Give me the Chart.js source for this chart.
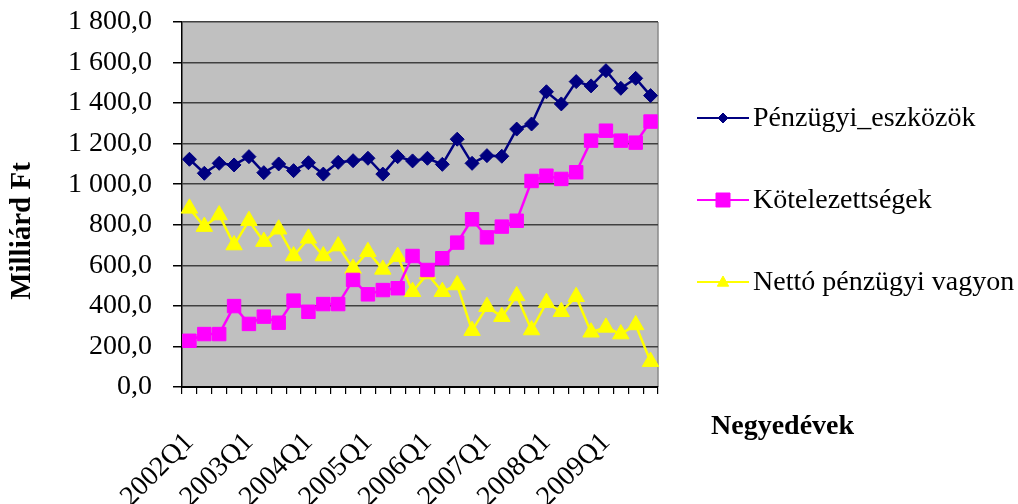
<!DOCTYPE html>
<html><head><meta charset="utf-8">
<script src="https://cdn.jsdelivr.net/npm/chart.js@4"></script>
<style>html,body{margin:0;padding:0;background:#fff;overflow:hidden}</style>
</head><body>
<canvas id="c" width="1018" height="504" style="display:block;width:1018px;height:504px"></canvas>
<script>
const categories = [
 '2002Q1','2002Q2','2002Q3','2002Q4','2003Q1','2003Q2','2003Q3','2003Q4',
 '2004Q1','2004Q2','2004Q3','2004Q4','2005Q1','2005Q2','2005Q3','2005Q4',
 '2006Q1','2006Q2','2006Q3','2006Q4','2007Q1','2007Q2','2007Q3','2007Q4',
 '2008Q1','2008Q2','2008Q3','2008Q4','2009Q1','2009Q2','2009Q3','2009Q4'];
const shownTickLabels = ['2002Q1','2003Q1','2004Q1','2005Q1','2006Q1','2007Q1','2008Q1','2009Q1'];
const penzugyiEszkozok = [1123,1054,1103,1095,1136,1057,1100,1067,1106,1050,1108,1116,1128,1050,1136,1115,
 1128,1098,1222,1103,1141,1138,1272,1297,1456,1396,1506,1485,1560,1473,1522,1437];
const kotelezettsegek = [228,261,261,399,311,347,317,426,371,409,409,528,457,478,487,646,
 577,635,712,827,738,791,820,1016,1042,1026,1059,1215,1264,1215,1205,1309];
const nettoVagyon = [881,791,848,700,820,717,778,646,733,646,695,585,667,580,643,470,
 557,470,503,278,396,347,449,281,416,371,445,270,294,261,306,125];
const seriesNames = ['Pénzügyi_eszközök','Kötelezettségek','Nettó pénzügyi vagyon'];
const seriesColors = ['#000080','#FF00FF','#FFFF00'];
const seriesMarkers = ['rectRot','rect','triangle'];
const yMin = 0, yMax = 1800, yStep = 200;
const yTitle = 'Milliárd Ft';
const xTitle = 'Negyedévek';

const SERIF = '"Liberation Serif", "Times New Roman", serif';

function fmt(v){
  const s = v >= 1000 ? Math.floor(v/1000) + ' ' + String(v % 1000).padStart(3,'0') : String(v);
  return s + ',0';
}

function marker(ctx, type, x, y, r, color){
  ctx.save();
  ctx.fillStyle = color; ctx.strokeStyle = color; ctx.lineWidth = 1;
  ctx.beginPath();
  if (type === 'rectRot'){
    ctx.moveTo(x, y-r); ctx.lineTo(x+r, y); ctx.lineTo(x, y+r); ctx.lineTo(x-r, y);
  } else if (type === 'rect'){
    ctx.rect(x-r, y-r, 2*r, 2*r);
  } else {
    ctx.moveTo(x, y-r); ctx.lineTo(x+r*0.95, y+r*0.7); ctx.lineTo(x-r*0.95, y+r*0.7);
  }
  ctx.closePath(); ctx.fill(); ctx.stroke();
  ctx.restore();
}

const decor = {
  id: 'decor',
  beforeDraw(chart){
    const {ctx, chartArea: a} = chart;
    ctx.save();
    ctx.fillStyle = '#ffffff';
    ctx.fillRect(0,0,chart.width,chart.height);
    ctx.fillStyle = '#C0C0C0';
    ctx.fillRect(a.left, a.top, a.right-a.left, a.bottom-a.top);
    ctx.strokeStyle = '#8a8a8a'; ctx.lineWidth = 1.5;
    ctx.beginPath(); ctx.moveTo(a.right, a.top); ctx.lineTo(a.right, a.bottom); ctx.stroke();
    ctx.restore();
  },
  afterDraw(chart){
    const {ctx} = chart;
    ctx.save();
    ctx.fillStyle = '#000';
    ctx.font = 'bold 29px ' + SERIF;
    ctx.textAlign = 'center'; ctx.textBaseline = 'middle';
    ctx.translate(23, 231); ctx.rotate(-Math.PI/2);
    ctx.fillText(yTitle, 0, 0);
    ctx.restore();
    ctx.save();
    ctx.fillStyle = '#000';
    ctx.font = 'bold 28px ' + SERIF;
    ctx.textAlign = 'left'; ctx.textBaseline = 'alphabetic';
    ctx.fillText(xTitle, 711, 434);
    const sizes = [5, 7, 6];
    for (let i = 0; i < seriesNames.length; i++){
      const y = 118 + i*82;
      ctx.strokeStyle = seriesColors[i]; ctx.lineWidth = 2;
      ctx.beginPath(); ctx.moveTo(697, y); ctx.lineTo(749, y); ctx.stroke();
      marker(ctx, seriesMarkers[i], 723, y, sizes[i], seriesColors[i]);
      ctx.fillStyle = '#000';
      ctx.font = '28px ' + SERIF;
      ctx.textBaseline = 'middle';
      ctx.fillText(seriesNames[i], 753, y + 1);
    }
    ctx.restore();
  }
};

const values = [penzugyiEszkozok, kotelezettsegek, nettoVagyon];
const radii = [7, 9.5, 9.5];
new Chart(document.getElementById('c'), {
  type: 'line',
  data: {
    labels: categories,
    datasets: seriesNames.map((n, i) => ({
      label: n,
      data: values[i],
      borderColor: seriesColors[i],
      backgroundColor: seriesColors[i],
      borderWidth: 2.5,
      pointStyle: seriesMarkers[i],
      pointRadius: radii[i],
      pointBorderWidth: 1,
      tension: 0,
      fill: false
    }))
  },
  options: {
    responsive: false,
    animation: false,
    devicePixelRatio: 1,
    layout: { padding: { top: 22, right: 360, bottom: 0, left: 0 } },
    plugins: { legend: { display: false }, tooltip: { enabled: false } },
    scales: {
      x: {
        type: 'category',
        offset: true,
        afterFit(s){ s.height = 117; s.paddingLeft = 0; s.paddingRight = 0; s.paddingTop = 0; s.paddingBottom = 0; },
        grid: { offset: true, drawOnChartArea: false, drawTicks: true, tickLength: 7, tickColor: '#000', lineWidth: 1.2 },
        border: { display: true, color: '#000', width: 2 },
        ticks: {
          autoSkip: false, maxRotation: 45, minRotation: 45, padding: 32,
          color: '#000', font: { family: SERIF, size: 28 },
          callback(v, i){ return shownTickLabels.includes(categories[i]) ? categories[i] : ''; }
        }
      },
      y: {
        min: yMin, max: yMax,
        afterFit(s){ s.width = 182; s.paddingTop = 0; s.paddingBottom = 0; s.paddingLeft = 0; s.paddingRight = 0; },
        grid: { color: '#404040', lineWidth: 1.5, tickColor: '#000', tickLength: 9, drawTicks: true },
        border: { display: true, color: '#000', width: 1.5 },
        ticks: {
          stepSize: yStep, padding: 21, color: '#000',
          font: { family: SERIF, size: 28 },
          callback(v){ return fmt(v); }
        }
      }
    }
  },
  plugins: [decor]
});
</script>
</body></html>
